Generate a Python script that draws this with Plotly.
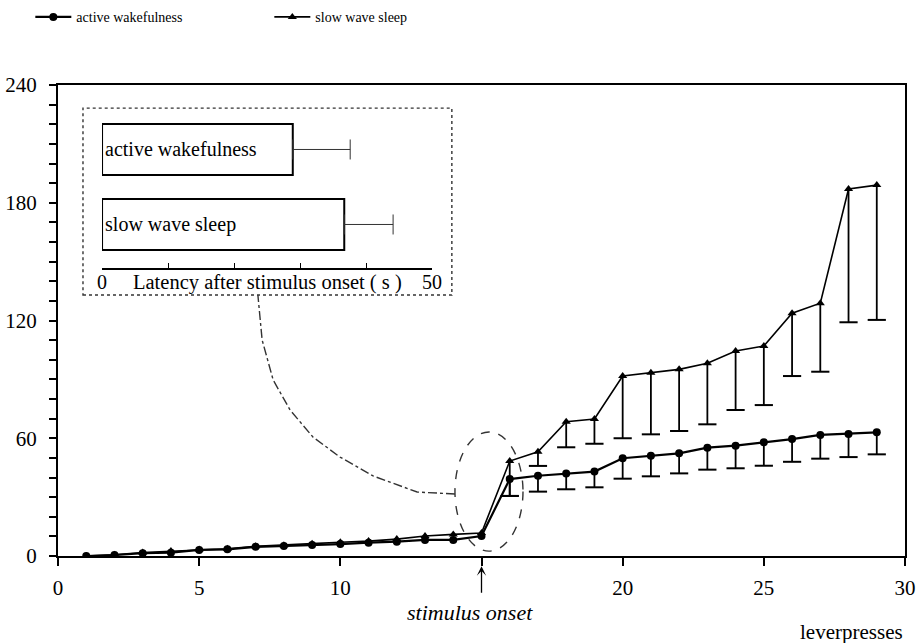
import plotly.graph_objects as go

# ---------------- data ----------------
leverpresses = list(range(1, 30))

aw_mean = [0, 0.5, 1.4, 1.7, 3.1, 3.4, 4.7, 5.1, 5.6, 6.1, 6.8, 7.3, 8.2, 8.2, 10.2,
           39.2, 40.9, 42.1, 43.0, 49.8, 51.1, 52.3, 55.2, 56.2, 57.9, 59.6, 61.7, 62.2, 63.0]
aw_lower = [None] * 15 + [30.6, 32.8, 34.0, 35.0, 39.4, 40.6, 42.1, 44.0, 44.7, 46.0,
                          48.0, 49.6, 50.4, 51.8]

sws_mean = [0, 0.6, 1.8, 2.5, 3.3, 3.7, 5.0, 5.5, 6.3, 7.0, 7.6, 8.6, 10.2, 11.0, 11.7,
            48.4, 53.1, 68.4, 69.8, 91.7, 93.4, 95.1, 98.2, 104.5, 107.0, 123.7, 128.8, 187.0, 189.0]
sws_lower = [None] * 15 + [30.6, 45.9, 55.4, 57.2, 60.0, 62.0, 63.7, 67.1, 74.4, 76.9,
                           91.7, 93.9, 119.1, 120.3]

x_ticks = [0, 5, 10, 15, 20, 25, 30]
x_ticktext = ["0", "5", "10", "", "20", "25", "30"]
y_ticks = [0, 60, 120, 180, 240]

inset_groups = ["slow wave sleep", "active wakefulness"]
inset_latency = [36.7, 28.9]
inset_err = [7.4, 8.7]
inset_ticks = [0, 10, 20, 30, 40, 50]
inset_ticktext = ["0", "", "", "", "", "50"]

FONT = "Liberation Serif"

fig = go.Figure()


def err_segments(xs, ys, lows):
    ex, ey, cx, cy = [], [], [], []
    for x, y, lo in zip(xs, ys, lows):
        if lo is None:
            continue
        ex += [x, x, None]
        ey += [y, lo, None]
        cx.append(x)
        cy.append(lo)
    return ex, ey, cx, cy


for ys, lows in ((sws_mean, sws_lower), (aw_mean, aw_lower)):
    ex, ey, cx, cy = err_segments(leverpresses, ys, lows)
    fig.add_trace(go.Scatter(x=ex, y=ey, mode="lines", line=dict(color="black", width=1.8),
                             showlegend=False, hoverinfo="skip"))
    fig.add_trace(go.Scatter(x=cx, y=cy, mode="markers",
                             marker=dict(symbol="line-ew", size=13, line=dict(color="black", width=2)),
                             showlegend=False, hoverinfo="skip"))

fig.add_trace(go.Scatter(x=leverpresses, y=aw_mean, mode="lines+markers", name="active wakefulness",
                         line=dict(color="black", width=2.2),
                         marker=dict(symbol="circle", size=8, color="black")))
fig.add_trace(go.Scatter(x=leverpresses, y=sws_mean, mode="lines+markers", name="slow wave sleep",
                         line=dict(color="black", width=1.6),
                         marker=dict(symbol="triangle-up", size=8, color="black")))

# inset bar chart
fig.add_trace(go.Bar(y=inset_groups, x=inset_latency, orientation="h", xaxis="x2", yaxis="y2",
                     width=0.68, marker=dict(color="white", line=dict(color="black", width=2)),
                     text=inset_groups, textposition="inside", insidetextanchor="start", textangle=0,
                     textfont=dict(family=FONT, size=20, color="black"),
                     error_x=dict(type="data", array=inset_err, symmetric=False, arrayminus=[0, 0],
                                  color="#333", thickness=1, width=10),
                     showlegend=False, hoverinfo="skip"))

fig.update_layout(
    width=919, height=643,
    margin=dict(l=58, r=14, t=85, b=87),
    paper_bgcolor="white", plot_bgcolor="white",
    font=dict(family=FONT, size=21, color="black"),
    legend=dict(orientation="h", xref="container", yref="container", x=0.033, y=0.998,
                xanchor="left", yanchor="top", font=dict(family=FONT, size=14),
                entrywidth=188, bgcolor="rgba(0,0,0,0)", itemwidth=36),
    xaxis=dict(range=[0, 30], tickvals=x_ticks, ticktext=x_ticktext, ticks="outside", ticklen=8,
               tickwidth=1.5, tickcolor="black", showline=True, linewidth=2, linecolor="black",
               mirror=True, showgrid=False, zeroline=False, ticklabelstandoff=4, automargin=False),
    yaxis=dict(range=[0, 240], tickvals=y_ticks, ticks="outside", ticklen=7, tickwidth=2,
               tickcolor="black", showline=True, linewidth=2, linecolor="black", mirror=True,
               showgrid=False, zeroline=False, ticklabelstandoff=8, automargin=False,
               minor=dict(dtick=10, ticks="outside", ticklen=7, tickwidth=2, tickcolor="black",
                          showgrid=False)),
    xaxis2=dict(domain=[0.052, 0.4416], anchor="y2", range=[0, 50], tickvals=inset_ticks,
                ticktext=inset_ticktext, ticks="inside", ticklen=5, tickcolor="black",
                showline=True, linewidth=2, linecolor="black", showgrid=False, zeroline=False,
                tickfont=dict(size=20), ticklabelstandoff=-5, automargin=False),
    yaxis2=dict(domain=[0.6115, 0.947], anchor="x2", type="category",
                categoryorder="array", categoryarray=inset_groups,
                range=[-0.58, 1.527], visible=False),
    bargap=0.3,
)

# inset frame (dotted)
fig.add_shape(type="rect", xref="paper", yref="paper", x0=0.0295, x1=0.465, y0=0.554, y1=0.951,
              line=dict(color="#333", width=1.4, dash="dot"), layer="below")

# dashed ellipse around stimulus onset
fig.add_shape(type="circle", xref="x", yref="y", x0=14.06, x1=16.47, y0=2.5, y1=63.2,
              line=dict(color="#333", width=1.4, dash="dash"))

# dash-dot connector from ellipse to inset
fig.add_shape(type="path", xref="x", yref="y",
              path="M 14.06,31.6 L 12.72,32.6 L 11.16,40.8 L 9.99,50.4 L 9.03,60.6 "
                   "L 8.22,74.4 L 7.62,89.7 L 7.23,110.1 L 7.08,133",
              line=dict(color="#333", width=1.4, dash="dashdot"))

# inset axis title
fig.add_annotation(xref="x2", yref="paper", x=25, y=0.581, text="Latency after stimulus onset ( s )",
                   showarrow=False, font=dict(size=20.5), yanchor="middle")

# stimulus onset arrow and label
fig.add_annotation(xref="x", yref="paper", x=15, y=-0.022, ax=0, ay=28, axref="pixel", ayref="pixel",
                   text="", showarrow=True, arrowhead=3, arrowsize=1.2, arrowwidth=1.3,
                   arrowcolor="black")
fig.add_annotation(xref="x", yref="paper", x=14.6, y=-0.119, text="<i>stimulus onset</i>",
                   showarrow=False, font=dict(size=22), yanchor="middle")
fig.add_annotation(xref="paper", yref="paper", x=1.0, y=-0.161, text="leverpresses",
                   showarrow=False, font=dict(size=21), xanchor="right", yanchor="middle")

fig.write_html("out.html", config={"displayModeBar": False},
               post_script="document.body.style.margin='0';document.body.style.overflow='hidden';")
